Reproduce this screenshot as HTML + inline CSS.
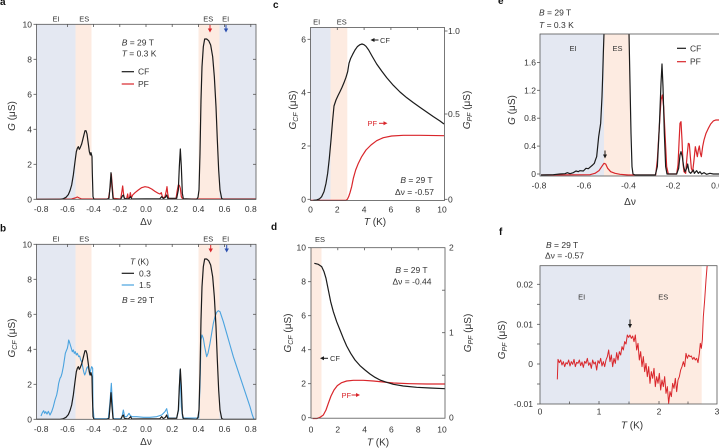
<!DOCTYPE html>
<html><head><meta charset="utf-8">
<style>
html,body{margin:0;padding:0;background:#fff;}
svg{display:block;}
text{font-family:"Liberation Sans",Arial,sans-serif;fill:#333;}
.tk{font-size:8.5px;}
.an{font-size:8.5px;}
.sm{font-size:7.5px;}
.al{font-size:10px;}
.pl{font-size:10px;font-weight:bold;fill:#111;}
.ax{fill:none;stroke:#555;stroke-width:0.8;}
.t{stroke:#555;stroke-width:0.8;}
.k{fill:none;stroke:#1b1b1b;stroke-width:1.2;vector-effect:non-scaling-stroke;stroke-linejoin:round;}
.r{fill:none;stroke:#d9262b;stroke-width:1.2;vector-effect:non-scaling-stroke;stroke-linejoin:round;}
.bl{fill:none;stroke:#4aa3df;stroke-width:1.1;vector-effect:non-scaling-stroke;stroke-linejoin:round;}
</style></head>
<body>
<svg width="719" height="448" viewBox="0 0 719 448" xmlns="http://www.w3.org/2000/svg">
<defs>
<clipPath id="ca"><rect x="36.5" y="24.3" width="219.5" height="175.5"/></clipPath>
<clipPath id="cb"><rect x="36.5" y="244.3" width="219.5" height="175.5"/></clipPath>
<clipPath id="cc"><rect x="310.5" y="27.5" width="134" height="174"/></clipPath>
<clipPath id="cd"><rect x="311" y="247.7" width="134" height="171.5"/></clipPath>
<clipPath id="ce"><rect x="540" y="34" width="179" height="142.5"/></clipPath>
<clipPath id="cf"><rect x="540" y="265.7" width="177" height="138.3"/></clipPath>
</defs>
<rect width="719" height="448" fill="#fff"/>

<!-- ================= PANEL A ================= -->
<g>
<rect x="36.5" y="24.3" width="39" height="175" fill="#e4e8f2"/>
<rect x="75.5" y="24.3" width="16" height="175" fill="#fdebe1"/>
<rect x="198.5" y="24.3" width="21" height="175" fill="#fdebe1"/>
<rect x="219.5" y="24.3" width="36.5" height="175" fill="#e4e8f2"/>
<g clip-path="url(#ca)"><g transform="scale(0.33333)">
<path class="r" d="M108,598 L215,597 L225,594 L232,591 L238,594 L245,597 L325,597 L328,580 L331,560 L334,522 L337,560 L340,595 L362,597 L366,572 L368,558 L371,585 L374,597 L380,596 L383,582 L385,596 L388,596 L391,578 L394,594 L398,585 L405,578 L415,570 L425,563 L435,560 L445,562 L455,567 L465,574 L475,580 L480,582 L484,578 L487,590 L490,594 L495,590 L499,572 L501,560 L503,580 L506,596 L528,596 L532,570 L535,555 L538,556 L541,565 L544,590 L548,597 L768,597"/>
<path class="k" d="M108,598 L180,598 L190,596 L198,592 L205,584 L210,572 L215,555 L220,525 L225,485 L229,455 L232,445 L235,440 L238,448 L241,442 L245,432 L250,412 L255,392 L258,392 L261,402 L265,432 L268,455 L271,465 L273,458 L276,470 L277,520 L279,590 L282,598 L320,598 L327,595 L330,560 L333,518 L336,560 L339,595 L342,598 L362,598 L367,588 L370,585 L373,595 L385,597 L392,590 L395,597 L480,596 L485,590 L490,596 L496,592 L500,585 L503,595 L530,595 L535,570 L538,500 L541,447 L544,500 L547,580 L550,596 L590,598 L594,592 L597,570 L600,460 L603,300 L606,200 L610,140 L614,117 L620,117 L626,122 L632,135 L638,170 L643,230 L648,320 L652,420 L656,510 L660,570 L665,595 L670,598 L768,598"/>
</g></g>
<rect class="ax" x="36.5" y="24.3" width="219.5" height="175"/>
<g class="t">
<line x1="33.5" y1="199.3" x2="36.5" y2="199.3"/><line x1="33.5" y1="164.3" x2="36.5" y2="164.3"/><line x1="33.5" y1="129.3" x2="36.5" y2="129.3"/><line x1="33.5" y1="94.3" x2="36.5" y2="94.3"/><line x1="33.5" y1="59.3" x2="36.5" y2="59.3"/><line x1="33.5" y1="24.3" x2="36.5" y2="24.3"/>
<line x1="253" y1="164.3" x2="256" y2="164.3"/><line x1="253" y1="129.3" x2="256" y2="129.3"/><line x1="253" y1="94.3" x2="256" y2="94.3"/><line x1="253" y1="59.3" x2="256" y2="59.3"/>
<line x1="67.4" y1="24.3" x2="67.4" y2="27"/><line x1="93.6" y1="24.3" x2="93.6" y2="27"/><line x1="119.8" y1="24.3" x2="119.8" y2="27"/><line x1="146" y1="24.3" x2="146" y2="27"/><line x1="172.2" y1="24.3" x2="172.2" y2="27"/><line x1="198.4" y1="24.3" x2="198.4" y2="27"/><line x1="224.6" y1="24.3" x2="224.6" y2="27"/><line x1="250.8" y1="24.3" x2="250.8" y2="27"/>
</g>
<g class="tk" text-anchor="end">
<text x="32" y="202.3">0</text><text x="32" y="167.3">2</text><text x="32" y="132.3">4</text><text x="32" y="97.3">6</text><text x="32" y="62.3">8</text><text x="32" y="27.3">10</text>
</g>
<g class="tk" text-anchor="middle">
<text x="41.2" y="212">-0.8</text><text x="67.4" y="212">-0.6</text><text x="93.6" y="212">-0.4</text><text x="119.8" y="212">-0.2</text><text x="146" y="212">0.0</text><text x="172.2" y="212">0.2</text><text x="198.4" y="212">0.4</text><text x="224.6" y="212">0.6</text><text x="250.8" y="212">0.8</text>
</g>
<text class="al" x="146" y="225" text-anchor="middle">Δν</text>
<text class="al" transform="translate(15,116) rotate(-90)" text-anchor="middle"><tspan font-style="italic">G</tspan> (μS)</text>
<g class="sm" text-anchor="middle"><text x="56" y="21.5">EI</text><text x="84.3" y="21.5">ES</text><text x="208.3" y="21.5">ES</text><text x="225.7" y="21.5">EI</text></g>
<path d="M210,25 L210,29" stroke="#d9262b" stroke-width="1"/><path d="M207.8,28.5 L212.2,28.5 L210,32.5 Z" fill="#d9262b"/>
<path d="M226,25 L226,29" stroke="#2b4fb0" stroke-width="1"/><path d="M223.8,28.5 L228.2,28.5 L226,32.5 Z" fill="#2b4fb0"/>
<text class="an" x="121.7" y="45.5"><tspan font-style="italic">B</tspan> = 29 T</text>
<text class="an" x="121.7" y="56.5"><tspan font-style="italic">T</tspan> = 0.3 K</text>
<line x1="121.7" y1="71.7" x2="134" y2="71.7" stroke="#1b1b1b" stroke-width="1.2"/>
<line x1="121.7" y1="84" x2="134" y2="84" stroke="#d9262b" stroke-width="1.2"/>
<text class="an" x="138" y="74.7">CF</text>
<text class="an" x="138" y="87">PF</text>
<text class="pl" x="0" y="5">a</text>
</g>

<!-- ================= PANEL B ================= -->
<g>
<rect x="36.5" y="244.3" width="39" height="175" fill="#e4e8f2"/>
<rect x="75.5" y="244.3" width="16" height="175" fill="#fdebe1"/>
<rect x="198.5" y="244.3" width="21" height="175" fill="#fdebe1"/>
<rect x="219.5" y="244.3" width="36.5" height="175" fill="#e4e8f2"/>
<g clip-path="url(#cb)"><g transform="translate(0,220) scale(0.33333)">
<path class="bl" d="M123,588 L127,578 L131,572 L134,580 L137,575 L141,582 L145,574 L150,585 L155,575 L160,560 L165,540 L170,525 L173,510 L176,490 L180,475 L183,470 L186,460 L190,440 L193,420 L196,400 L199,392 L202,385 L204,375 L206,360 L208,365 L211,375 L214,385 L217,395 L220,390 L223,400 L226,395 L229,405 L232,400 L236,410 L239,408 L242,420 L245,425 L248,440 L251,455 L254,465 L257,458 L260,445 L263,440 L266,448 L269,465 L272,450 L275,440 L278,445 L279,560 L282,596 L325,596 L330,545 L334,490 L337,545 L340,596 L365,596 L370,570 L374,590 L380,590 L387,580 L390,585 L395,590 L410,590 L430,592 L450,592 L470,590 L485,585 L495,575 L500,566 L503,580 L506,594 L530,594 L536,570 L540,450 L544,560 L548,594 L596,594 L600,500 L603,360 L606,345 L610,355 L614,380 L618,400 L620,410 L624,400 L630,370 L635,340 L640,310 L645,290 L650,277 L655,272 L660,275 L665,290 L670,305 L680,340 L690,375 L700,410 L710,440 L720,470 L730,500 L740,530 L750,560 L757,585 L762,598"/>
<path class="k" d="M108,598 L180,598 L190,596 L198,592 L205,584 L210,572 L215,555 L220,525 L225,485 L229,455 L232,445 L235,440 L238,448 L241,442 L245,432 L250,412 L255,392 L258,392 L261,402 L265,432 L268,455 L271,465 L273,458 L276,470 L277,520 L279,590 L282,598 L320,598 L327,595 L330,560 L333,518 L336,560 L339,595 L342,598 L362,598 L367,588 L370,585 L373,595 L385,597 L392,590 L395,597 L480,596 L485,590 L490,596 L496,592 L500,585 L503,595 L530,595 L535,570 L538,500 L541,447 L544,500 L547,580 L550,596 L590,598 L594,592 L597,570 L600,460 L603,300 L606,200 L610,140 L614,117 L620,117 L626,122 L632,135 L638,170 L643,230 L648,320 L652,420 L656,510 L660,570 L665,595 L670,598 L768,598"/>
</g></g>
<rect class="ax" x="36.5" y="244.3" width="219.5" height="175"/>
<g class="t">
<line x1="33.5" y1="419.3" x2="36.5" y2="419.3"/><line x1="33.5" y1="384.3" x2="36.5" y2="384.3"/><line x1="33.5" y1="349.3" x2="36.5" y2="349.3"/><line x1="33.5" y1="314.3" x2="36.5" y2="314.3"/><line x1="33.5" y1="279.3" x2="36.5" y2="279.3"/><line x1="33.5" y1="244.3" x2="36.5" y2="244.3"/>
<line x1="253" y1="384.3" x2="256" y2="384.3"/><line x1="253" y1="349.3" x2="256" y2="349.3"/><line x1="253" y1="314.3" x2="256" y2="314.3"/><line x1="253" y1="279.3" x2="256" y2="279.3"/>
<line x1="67.4" y1="244.3" x2="67.4" y2="247"/><line x1="93.6" y1="244.3" x2="93.6" y2="247"/><line x1="119.8" y1="244.3" x2="119.8" y2="247"/><line x1="146" y1="244.3" x2="146" y2="247"/><line x1="172.2" y1="244.3" x2="172.2" y2="247"/><line x1="198.4" y1="244.3" x2="198.4" y2="247"/><line x1="224.6" y1="244.3" x2="224.6" y2="247"/><line x1="250.8" y1="244.3" x2="250.8" y2="247"/>
</g>
<g class="tk" text-anchor="end">
<text x="32" y="422.3">0</text><text x="32" y="387.3">2</text><text x="32" y="352.3">4</text><text x="32" y="317.3">6</text><text x="32" y="282.3">8</text><text x="32" y="247.3">10</text>
</g>
<g class="tk" text-anchor="middle">
<text x="41.2" y="432">-0.8</text><text x="67.4" y="432">-0.6</text><text x="93.6" y="432">-0.4</text><text x="119.8" y="432">-0.2</text><text x="146" y="432">0.0</text><text x="172.2" y="432">0.2</text><text x="198.4" y="432">0.4</text><text x="224.6" y="432">0.6</text><text x="250.8" y="432">0.8</text>
</g>
<text class="al" x="146" y="445" text-anchor="middle">Δν</text>
<text class="al" transform="translate(15,338) rotate(-90)" text-anchor="middle"><tspan font-style="italic">G</tspan><tspan font-size="7" font-style="italic" dy="2">CF</tspan><tspan dy="-2"> (μS)</tspan></text>
<g class="sm" text-anchor="middle"><text x="56" y="241.5">EI</text><text x="84.3" y="241.5">ES</text><text x="208.3" y="241.5">ES</text><text x="225.7" y="241.5">EI</text></g>
<path d="M210.7,245 L210.7,249" stroke="#d9262b" stroke-width="1"/><path d="M208.5,248.5 L212.9,248.5 L210.7,252.5 Z" fill="#d9262b"/>
<path d="M226.7,245 L226.7,249" stroke="#2b4fb0" stroke-width="1"/><path d="M224.5,248.5 L228.9,248.5 L226.7,252.5 Z" fill="#2b4fb0"/>
<text class="an" x="130" y="264.5"><tspan font-style="italic">T</tspan> (K)</text>
<line x1="121.7" y1="273.3" x2="134" y2="273.3" stroke="#1b1b1b" stroke-width="1.2"/>
<line x1="121.7" y1="285" x2="134" y2="285" stroke="#4aa3df" stroke-width="1.2"/>
<text class="an" x="139" y="276.3">0.3</text>
<text class="an" x="139" y="288">1.5</text>
<text class="an" x="122" y="303"><tspan font-style="italic">B</tspan> = 29 T</text>
<text class="pl" x="0" y="231.5">b</text>
</g>

<!-- ================= PANEL C ================= -->
<g>
<rect x="310.5" y="27.5" width="20" height="173" fill="#e4e8f2"/>
<rect x="330.5" y="27.5" width="16.8" height="173" fill="#fdebe1"/>
<g clip-path="url(#cc)"><g transform="translate(260,0) scale(0.33333)">
<path class="r" d="M150,601 L258,601 L262,598 L266,590 L270,578 L275,560 L280,535 L287,510 L295,490 L305,470 L318,450 L333,435 L350,422 L370,413 L395,408 L430,406 L480,406 L552,407"/>
<path class="k" d="M160,601 L170,600 L178,597 L185,590 L192,575 L198,550 L203,520 L208,475 L213,420 L218,360 L222,318 L228,300 L234,287 L240,275 L246,262 L252,248 L258,232 L263,215 L267,190 L272,175 L278,163 L285,150 L292,140 L300,134 L306,132 L312,134 L318,139 L326,150 L336,168 L350,192 L365,213 L380,233 L400,256 L420,276 L440,293 L460,308 L480,322 L500,336 L520,350 L540,363 L552,372"/>
</g></g>
<rect class="ax" x="310.5" y="27.5" width="134" height="173"/>
<g class="t">
<line x1="307.5" y1="199.3" x2="310.5" y2="199.3"/><line x1="307.5" y1="146" x2="310.5" y2="146"/><line x1="307.5" y1="92.6" x2="310.5" y2="92.6"/><line x1="307.5" y1="39.3" x2="310.5" y2="39.3"/>
<line x1="444.5" y1="199.3" x2="447.5" y2="199.3"/><line x1="444.5" y1="114" x2="447.5" y2="114"/><line x1="444.5" y1="31" x2="447.5" y2="31"/>
<line x1="337.3" y1="27.5" x2="337.3" y2="30"/><line x1="364.1" y1="27.5" x2="364.1" y2="30"/><line x1="390.9" y1="27.5" x2="390.9" y2="30"/><line x1="417.7" y1="27.5" x2="417.7" y2="30"/>
</g>
<g class="tk" text-anchor="end">
<text x="306" y="202.3">0</text><text x="306" y="149">2</text><text x="306" y="95.6">4</text><text x="306" y="42.3">6</text>
</g>
<g class="tk">
<text x="448" y="202.3">0</text><text x="448" y="117">0.5</text><text x="448" y="34">1.0</text>
</g>
<g class="tk" text-anchor="middle">
<text x="310.5" y="212.5">0</text><text x="337.3" y="212.5">2</text><text x="364.1" y="212.5">4</text><text x="390.9" y="212.5">6</text><text x="417.7" y="212.5">8</text><text x="442" y="212.5">10</text>
</g>
<text class="al" x="375" y="225" text-anchor="middle"><tspan font-style="italic">T</tspan> (K)</text>
<text class="al" transform="translate(296,110) rotate(-90)" text-anchor="middle"><tspan font-style="italic">G</tspan><tspan font-size="7" font-style="italic" dy="2">CF</tspan><tspan dy="-2"> (μS)</tspan></text>
<text class="al" transform="translate(470,110) rotate(-90)" text-anchor="middle"><tspan font-style="italic">G</tspan><tspan font-size="7" font-style="italic" dy="2">PF</tspan><tspan dy="-2"> (μS)</tspan></text>
<g class="sm" text-anchor="middle"><text x="316.7" y="24.5">EI</text><text x="341.7" y="24.5">ES</text></g>
<path d="M372,40 L378.5,40" stroke="#1b1b1b" stroke-width="1"/><path d="M370.5,40 L374.5,38 L374.5,42 Z" fill="#1b1b1b"/>
<text class="sm" x="380" y="43">CF</text>
<text class="sm" x="367.5" y="126" fill="#d9262b" style="fill:#d9262b">PF</text>
<path d="M379,123.3 L385.5,123.3" stroke="#d9262b" stroke-width="1"/><path d="M387.5,123.3 L383.5,121.3 L383.5,125.3 Z" fill="#d9262b"/>
<text class="an" x="416.5" y="183" text-anchor="middle"><tspan font-style="italic">B</tspan> = 29 T</text>
<text class="an" x="414.5" y="195" text-anchor="middle">Δν = -0.57</text>
<text class="pl" x="273" y="8">c</text>
</g>

<!-- ================= PANEL D ================= -->
<g>
<rect x="311" y="247.7" width="10.5" height="170.5" fill="#fdebe1"/>
<g clip-path="url(#cd)"><g transform="translate(260,220) scale(0.33333)">
<path class="r" d="M158,596 L170,596 L180,592 L190,585 L198,570 L205,550 L213,528 L222,510 L232,497 L245,488 L260,483 L280,481 L310,481 L340,483 L370,486 L400,489 L450,491 L500,492 L555,492"/>
<path class="k" d="M163,130 L175,133 L185,140 L192,155 L198,175 L205,210 L212,245 L220,275 L230,305 L240,330 L250,355 L260,378 L272,400 L285,420 L300,437 L315,450 L330,462 L345,472 L360,480 L380,487 L400,493 L430,498 L470,502 L510,504 L555,506"/>
</g></g>
<rect class="ax" x="311" y="247.7" width="134" height="170.5"/>
<g class="t">
<line x1="308" y1="417.7" x2="311" y2="417.7"/><line x1="308" y1="383.7" x2="311" y2="383.7"/><line x1="308" y1="349.7" x2="311" y2="349.7"/><line x1="308" y1="315.7" x2="311" y2="315.7"/><line x1="308" y1="281.7" x2="311" y2="281.7"/><line x1="308" y1="247.7" x2="311" y2="247.7"/>
<line x1="442" y1="375.2" x2="445" y2="375.2"/><line x1="442" y1="332.7" x2="445" y2="332.7"/><line x1="442" y1="290.2" x2="445" y2="290.2"/>
<line x1="337.8" y1="247.7" x2="337.8" y2="250.2"/><line x1="364.6" y1="247.7" x2="364.6" y2="250.2"/><line x1="391.4" y1="247.7" x2="391.4" y2="250.2"/><line x1="418.2" y1="247.7" x2="418.2" y2="250.2"/>
</g>
<g class="tk" text-anchor="end">
<text x="306" y="420.7">0</text><text x="306" y="386.7">2</text><text x="306" y="352.7">4</text><text x="306" y="318.7">6</text><text x="306" y="284.7">8</text><text x="306" y="250.7">10</text>
</g>
<g class="tk">
<text x="449" y="420.7">0</text><text x="449" y="335.7">1</text><text x="449" y="250.7">2</text>
</g>
<g class="tk" text-anchor="middle">
<text x="311" y="432.5">0</text><text x="337.8" y="432.5">2</text><text x="364.6" y="432.5">4</text><text x="391.4" y="432.5">6</text><text x="418.2" y="432.5">8</text><text x="442" y="432.5">10</text>
</g>
<text class="al" x="378" y="445.5" text-anchor="middle"><tspan font-style="italic">T</tspan> (K)</text>
<text class="al" transform="translate(291,333) rotate(-90)" text-anchor="middle"><tspan font-style="italic">G</tspan><tspan font-size="7" font-style="italic" dy="2">CF</tspan><tspan dy="-2"> (μS)</tspan></text>
<text class="al" transform="translate(471,333) rotate(-90)" text-anchor="middle"><tspan font-style="italic">G</tspan><tspan font-size="7" font-style="italic" dy="2">PF</tspan><tspan dy="-2"> (μS)</tspan></text>
<text class="sm" x="320" y="242" text-anchor="middle">ES</text>
<path d="M321.5,358.3 L328,358.3" stroke="#1b1b1b" stroke-width="1"/><path d="M320,358.3 L324,356.3 L324,360.3 Z" fill="#1b1b1b"/>
<text class="sm" x="330" y="361">CF</text>
<text class="sm" x="341.5" y="398" style="fill:#d9262b">PF</text>
<path d="M351.5,395 L358,395" stroke="#d9262b" stroke-width="1"/><path d="M360,395 L356,393 L356,397 Z" fill="#d9262b"/>
<text class="an" x="411.5" y="273" text-anchor="middle"><tspan font-style="italic">B</tspan> = 29 T</text>
<text class="an" x="412" y="284.5" text-anchor="middle">Δν = -0.44</text>
<text class="pl" x="271" y="230">d</text>
</g>

<!-- ================= PANEL E ================= -->
<g>
<rect x="540" y="34" width="64" height="142" fill="#e4e8f2"/>
<rect x="604" y="34" width="26" height="142" fill="#fdebe1"/>
<g clip-path="url(#ce)"><g transform="translate(480,0) scale(0.33333)">
<path class="r" d="M183,525 L330,524 L345,520 L357,512 L365,500 L372,490 L377,492 L383,505 L392,515 L405,520 L420,523 L445,525 L527,525 L532,480 L538,380 L543,300 L547,285 L551,320 L556,420 L560,500 L565,522 L590,522 L594,495 L597,430 L600,370 L603,365 L606,420 L609,490 L612,515 L617,520 L621,470 L625,430 L628,432 L631,470 L634,505 L638,515 L642,480 L646,440 L649,455 L652,470 L655,450 L658,438 L661,460 L664,470 L668,440 L672,420 L678,400 L685,385 L692,372 L700,363 L708,360 L720,360"/>
<path class="k" d="M183,525 L220,524 L240,522 L255,521 L262,518 L270,521 L280,518 L288,513 L295,515 L300,512 L310,513 L318,505 L325,506 L332,500 L338,495 L343,490 L347,478 L350,470 L353,440 L356,410 L359,390 L362,370 L364,330 L366,290 L368,230 L370,160 L372,100 L373,60"/>
<path class="k" d="M446,60 L447,100 L450,250 L453,400 L456,500 L459,522 L465,525 L526,525 L532,500 L538,380 L543,250 L546,192 L549,260 L553,400 L557,500 L561,522 L590,522 L596,505 L600,465 L603,455 L607,470 L611,500 L615,515 L620,505 L623,492 L627,515 L632,520 L640,510 L643,520 L650,512 L655,520 L660,515 L665,522 L672,518 L680,523 L690,520 L700,522 L720,522"/>
</g></g>
<rect class="ax" x="540" y="34" width="180" height="142"/>
<g class="t">
<line x1="537" y1="174" x2="540" y2="174"/><line x1="537" y1="146.1" x2="540" y2="146.1"/><line x1="537" y1="118.2" x2="540" y2="118.2"/><line x1="537" y1="90.3" x2="540" y2="90.3"/><line x1="537" y1="62.4" x2="540" y2="62.4"/>
</g>
<g class="tk" text-anchor="end">
<text x="536" y="177">0</text><text x="536" y="149.1">0.4</text><text x="536" y="121.2">0.8</text><text x="536" y="93.3">1.2</text><text x="536" y="65.4">1.6</text>
</g>
<g class="tk" text-anchor="middle">
<text x="539" y="188.5">-0.8</text><text x="584" y="188.5">-0.6</text><text x="628.5" y="188.5">-0.4</text><text x="673" y="188.5">-0.2</text><text x="717" y="188.5">0.0</text>
</g>
<text class="al" x="630" y="205" text-anchor="middle">Δν</text>
<text class="al" transform="translate(515,110) rotate(-90)" text-anchor="middle"><tspan font-style="italic">G</tspan> (μS)</text>
<g class="sm" text-anchor="middle"><text x="573" y="51">EI</text><text x="617.5" y="51">ES</text></g>
<line x1="677" y1="48.3" x2="686" y2="48.3" stroke="#1b1b1b" stroke-width="1.2"/>
<line x1="677" y1="61.7" x2="686" y2="61.7" stroke="#d9262b" stroke-width="1.2"/>
<text class="an" x="690" y="51.3">CF</text>
<text class="an" x="690" y="64.7">PF</text>
<path d="M605,150.5 L605,155" stroke="#1b1b1b" stroke-width="1"/><path d="M603,154.5 L607,154.5 L605,158.5 Z" fill="#1b1b1b"/>
<text class="an" x="539" y="15.5"><tspan font-style="italic">B</tspan> = 29 T</text>
<text class="an" x="539" y="28"><tspan font-style="italic">T</tspan> = 0.3 K</text>
<text class="pl" x="498" y="4">e</text>
</g>

<!-- ================= PANEL F ================= -->
<g>
<rect x="540" y="265.7" width="90" height="138.3" fill="#e4e8f2"/>
<rect x="630" y="265.7" width="71.7" height="138.3" fill="#fdebe1"/>
<g clip-path="url(#cf)"><g transform="translate(480,220) scale(0.33333)">
<path class="r" style="stroke-width:1" d="M232,478 L234,418 L238,428 L242,420 L246,435 L250,425 L254,440 L258,428 L262,432 L266,420 L270,438 L274,425 L278,433 L282,418 L286,440 L290,427 L294,430 L298,420 L302,437 L306,426 L310,442 L314,424 L318,430 L322,415 L326,436 L330,428 L334,445 L338,420 L342,432 L346,426 L350,450 L354,422 L358,430 L362,415 L366,438 L370,425 L374,440 L378,420 L382,410 L386,390 L390,425 L394,405 L398,440 L402,415 L406,430 L410,398 L414,420 L418,395 L422,405 L426,380 L430,390 L434,365 L438,372 L442,345 L446,352 L450,345 L454,355 L458,348 L462,365 L466,345 L470,390 L474,370 L478,420 L482,395 L486,440 L490,410 L494,455 L498,430 L502,470 L506,440 L510,490 L514,455 L518,475 L522,445 L526,500 L530,470 L534,490 L538,460 L542,510 L546,480 L550,500 L554,470 L558,520 L562,500 L566,550 L570,515 L574,530 L578,490 L582,505 L586,475 L590,515 L594,480 L598,470 L602,450 L606,440 L610,425 L614,440 L618,400 L622,415 L626,405 L630,410 L634,408 L638,418 L642,412 L646,420 L650,415 L654,428 L658,400 L661,370 L664,385 L667,360 L670,290 L674,240 L678,180 L682,130 L684,100"/>
</g></g>
<rect class="ax" x="540" y="265.7" width="177" height="138.3"/>
<g class="t">
<line x1="537" y1="404" x2="540" y2="404"/><line x1="537" y1="384" x2="540" y2="384"/><line x1="537" y1="364" x2="540" y2="364"/><line x1="537" y1="344" x2="540" y2="344"/><line x1="537" y1="324.3" x2="540" y2="324.3"/><line x1="537" y1="304.3" x2="540" y2="304.3"/><line x1="537" y1="284.3" x2="540" y2="284.3"/>
<line x1="569.5" y1="404" x2="569.5" y2="401.5"/><line x1="599" y1="404" x2="599" y2="401"/><line x1="629" y1="404" x2="629" y2="401.5"/><line x1="659" y1="404" x2="659" y2="401"/><line x1="688" y1="404" x2="688" y2="401.5"/>
</g>
<g class="tk" text-anchor="end">
<text x="533" y="407">-0.01</text><text x="533" y="367">0</text><text x="533" y="327.3">0.01</text><text x="533" y="287.3">0.02</text>
</g>
<g class="tk" text-anchor="middle">
<text x="540" y="414.7">0</text><text x="599" y="414.7">1</text><text x="659" y="414.7">2</text><text x="717" y="414.7">3</text>
</g>
<text class="al" x="632" y="428.5" text-anchor="middle"><tspan font-style="italic">T</tspan> (K)</text>
<text class="al" transform="translate(505,340) rotate(-90)" text-anchor="middle"><tspan font-style="italic">G</tspan><tspan font-size="7" font-style="italic" dy="2">PF</tspan><tspan dy="-2">  (μS)</tspan></text>
<g class="sm" text-anchor="middle"><text x="581.7" y="299.5">EI</text><text x="663.3" y="299.5">ES</text></g>
<path d="M630,319.5 L630,324.5" stroke="#1b1b1b" stroke-width="1"/><path d="M628,324 L632,324 L630,328.3 Z" fill="#1b1b1b"/>
<text class="an" x="546" y="248"><tspan font-style="italic">B</tspan> = 29 T</text>
<text class="an" x="545" y="258.5">Δν = -0.57</text>
<text class="pl" x="499" y="235">f</text>
</g>
</svg>
</body></html>
